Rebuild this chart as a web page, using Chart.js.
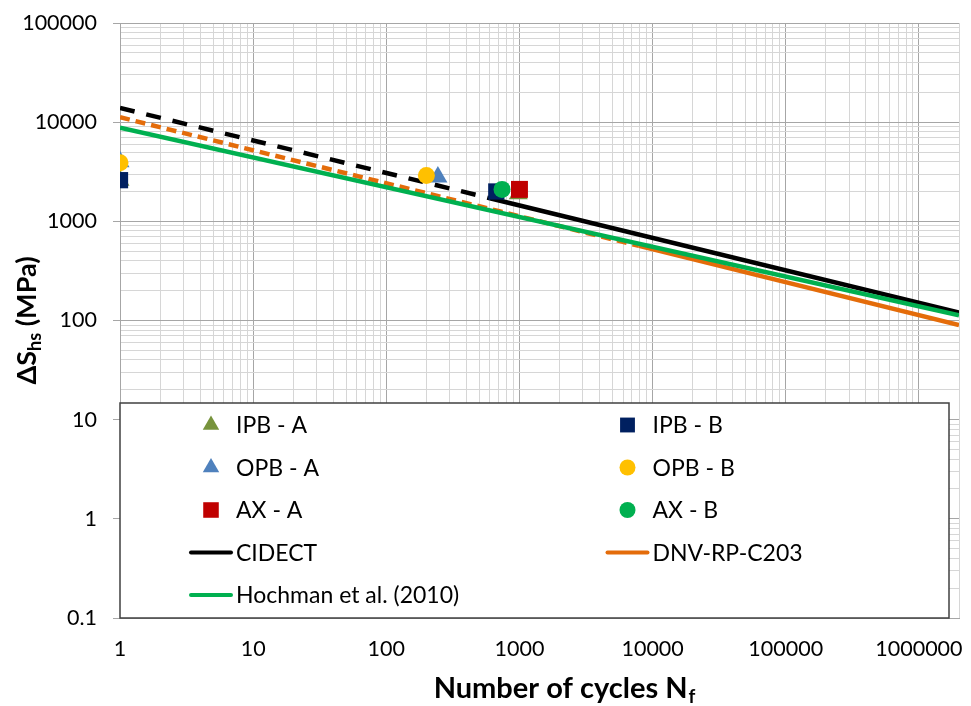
<!DOCTYPE html>
<html>
<head>
<meta charset="utf-8">
<script src="https://cdn.jsdelivr.net/npm/chart.js@4/dist/chart.umd.min.js"></script>
<style>
  body { margin: 0; background: #fff; }
</style>
</head>
<body>
<canvas id="myChart" width="971" height="706"></canvas>
<script>
// test points (cycles, hot spot stress range in MPa)
const ipbA_N = [1, 980];
const ipbA_S = [2600, 1900];
const ipbB_N = [1, 670];
const ipbB_S = [2600, 2000];
const opbA_N = [1, 244];
const opbA_S = [4000, 2800];
const opbB_N = [1, 200];
const opbB_S = [3900, 2900];
const axA_N = [1000];
const axA_S = [2100];
const axB_N = [740];
const axB_S = [2100];

// design curves: start, end of the dashed part, end
const cidect_N = [1, 600, 2000000];
const cidect_S = [13900, 1710, 120];
const dnv_N = [1, 7900, 2000000];
const dnv_S = [11200, 566, 90];
const hochman_N = [1, 2000000];
const hochman_S = [8800, 113];

const xTickLabels = [1, 10, 100, 1000, 10000, 100000, 1000000];
const yTickLabels = [0.1, 1, 10, 100, 1000, 10000, 100000];

const FONT = "Lato, 'Open Sans', sans-serif";
const MAJOR = '#a6a6a6';
const MINOR = '#d6d6d6';

function pts(N, S) {
  return N.map((n, i) => ({x: n, y: S[i]}));
}

function isLabel(list, v) {
  return list.some(t => Math.abs(t - v) / t < 1e-9);
}

// 1..9 x 10^e gridlines between min and max
function logTicks(min, max) {
  const out = [];
  for (let e = Math.floor(Math.log10(min)); e <= Math.ceil(Math.log10(max)); e++) {
    for (let d = 1; d <= 9; d++) {
      const v = Number((d * Math.pow(10, e)).toPrecision(10));
      if (v >= min * 0.999999 && v <= max * 1.000001) out.push({value: v});
    }
  }
  return out;
}

const data = {
  datasets: [
    {label: 'IPB - A', data: pts(ipbA_N, ipbA_S), pointStyle: 'triangle', pointRadius: 11,
     backgroundColor: '#77933C', borderColor: '#77933C', pointBorderWidth: 0, order: 3, legendRadius: 9.5},
    {label: 'IPB - B', data: pts(ipbB_N, ipbB_S), pointStyle: 'rect', pointRadius: 11.5,
     backgroundColor: '#002060', borderColor: '#002060', pointBorderWidth: 0, order: 2, legendRadius: 10.5},
    {label: 'OPB - A', data: pts(opbA_N, opbA_S), pointStyle: 'triangle', pointRadius: 11,
     backgroundColor: '#4F81BD', borderColor: '#4F81BD', pointBorderWidth: 0, order: 3, legendRadius: 9.5},
    {label: 'OPB - B', data: pts(opbB_N, opbB_S), pointStyle: 'circle', pointRadius: 8.5,
     backgroundColor: '#FFC000', borderColor: '#FFC000', pointBorderWidth: 0, order: 1, legendRadius: 8},
    {label: 'AX - A', data: pts(axA_N, axA_S), pointStyle: 'rect', pointRadius: 12,
     backgroundColor: '#C00000', borderColor: '#C00000', pointBorderWidth: 0, order: 2, legendRadius: 11},
    {label: 'AX - B', data: pts(axB_N, axB_S), pointStyle: 'circle', pointRadius: 8.5,
     backgroundColor: '#00B050', borderColor: '#00B050', pointBorderWidth: 0, order: 1, legendRadius: 8},
    {label: 'CIDECT', data: pts(cidect_N, cidect_S), showLine: true, pointRadius: 0,
     borderColor: '#000000', borderWidth: 4.5, order: 10,
     segment: {borderDash: ctx => ctx.p1.parsed.x <= 600 ? [15, 12] : []}},
    {label: 'DNV-RP-C203', data: pts(dnv_N, dnv_S), showLine: true, pointRadius: 0,
     borderColor: '#E46C0A', borderWidth: 4.5, order: 11,
     segment: {borderDash: ctx => ctx.p1.parsed.x <= 7900 ? [10, 6] : []}},
    {label: 'Hochman et al. (2010)', data: pts(hochman_N, hochman_S), showLine: true, pointRadius: 0,
     borderColor: '#00B050', borderWidth: 4.5, order: 9}
  ]
};

// legend drawn inside the plot, two columns, white box
const legendBox = {
  id: 'legendBox',
  afterDraw(chart) {
    const {ctx, chartArea: ca} = chart;
    const left = ca.left, right = ca.right - 10, bottom = ca.bottom, top = ca.bottom - 215;
    ctx.save();
    ctx.fillStyle = '#fff';
    ctx.fillRect(left, top, right - left, bottom - top);
    ctx.strokeStyle = '#404040';
    ctx.lineWidth = 1.5;
    ctx.strokeRect(left, top, right - left, bottom - top);
    ctx.font = '23px ' + FONT;
    ctx.textBaseline = 'middle';
    ctx.textAlign = 'left';
    chart.data.datasets.forEach((ds, k) => {
      const col = k % 2, row = Math.floor(k / 2);
      const mx = left + (col ? 507.5 : 91);
      const my = top + 22 + row * 42.5;
      if (ds.showLine) {
        ctx.strokeStyle = ds.borderColor;
        ctx.lineWidth = 4;
        ctx.lineCap = 'round';
        ctx.setLineDash([]);
        ctx.beginPath();
        ctx.moveTo(mx - 20, my);
        ctx.lineTo(mx + 20, my);
        ctx.stroke();
      } else {
        ctx.fillStyle = ds.backgroundColor;
        Chart.helpers.drawPoint(ctx, {pointStyle: ds.pointStyle, radius: ds.legendRadius, rotation: 0, borderWidth: 0}, mx, my);
      }
      ctx.fillStyle = '#000';
      ctx.fillText(ds.label, mx + 25, my + 1);
    });
    ctx.restore();
  }
};

// axis titles with subscripts
const axisTitles = {
  id: 'axisTitles',
  afterDraw(chart) {
    const {ctx, chartArea: ca} = chart;
    ctx.save();
    ctx.fillStyle = '#000';
    ctx.textBaseline = 'alphabetic';
    ctx.textAlign = 'left';

    // x title
    let big = 'bold 29px ' + FONT, small = 'bold 19px ' + FONT;
    ctx.font = big;
    const xMain = 'Number of cycles N';
    const w1 = ctx.measureText(xMain).width;
    ctx.font = small;
    const w2 = ctx.measureText('f').width;
    let x = 564 - (w1 + w2) / 2;
    const yb = 698;
    ctx.font = big;
    ctx.fillText(xMain, x, yb);
    ctx.font = small;
    ctx.fillText('f', x + w1 + 1, yb + 5);

    // y title, rotated
    big = 'bold 27px ' + FONT;
    small = 'bold 18px ' + FONT;
    ctx.translate(36, (ca.top + ca.bottom) / 2);
    ctx.rotate(-Math.PI / 2);
    ctx.font = big;
    const a = ctx.measureText('\u0394S').width;
    const c = ctx.measureText(' (MPa)').width;
    ctx.font = small;
    const b = ctx.measureText('hs').width;
    let p = -(a + b + c) / 2;
    ctx.font = big;
    ctx.fillText('\u0394S', p, 0);
    ctx.font = small;
    ctx.fillText('hs', p + a, 5);
    ctx.font = big;
    ctx.fillText(' (MPa)', p + a + b, 0);
    ctx.restore();
  }
};

const config = {
  type: 'scatter',
  data: data,
  options: {
    responsive: false,
    animation: false,
    layout: {padding: {top: 23, right: 8, left: 0, bottom: 0}},
    plugins: {
      legend: {display: false},
      tooltip: {enabled: false}
    },
    scales: {
      x: {
        type: 'logarithmic',
        min: 1,
        max: 2000000,
        afterBuildTicks: s => { s.ticks = logTicks(1, 2000000); },
        afterFit: s => { s.height = 88; s.paddingLeft = 0; s.paddingRight = 0; },
        grid: {
          color: c => isLabel(xTickLabels, c.tick.value) ? MAJOR : MINOR,
          drawTicks: false
        },
        border: {color: MAJOR},
        ticks: {
          autoSkip: false,
          maxRotation: 0,
          padding: 18,
          color: '#000',
          font: {family: FONT, size: 21.5},
          callback: v => isLabel(xTickLabels, v) ? String(v) : ''
        }
      },
      y: {
        type: 'logarithmic',
        min: 0.1,
        max: 100000,
        afterBuildTicks: s => { s.ticks = logTicks(0.1, 100000); },
        afterFit: s => { s.width = 120; s.paddingTop = 0; s.paddingBottom = 0; },
        grid: {
          color: c => isLabel(yTickLabels, c.tick.value) ? MAJOR : MINOR,
          tickColor: c => isLabel(yTickLabels, c.tick.value) ? MAJOR : 'rgba(0,0,0,0)',
          tickLength: 7
        },
        border: {color: MAJOR},
        ticks: {
          autoSkip: false,
          padding: 16,
          color: '#000',
          font: {family: FONT, size: 21.5},
          callback: v => isLabel(yTickLabels, v) ? String(v) : ''
        }
      }
    }
  },
  plugins: [legendBox, axisTitles]
};

const myChart = new Chart(document.getElementById('myChart'), config);
</script>
</body>
</html>
